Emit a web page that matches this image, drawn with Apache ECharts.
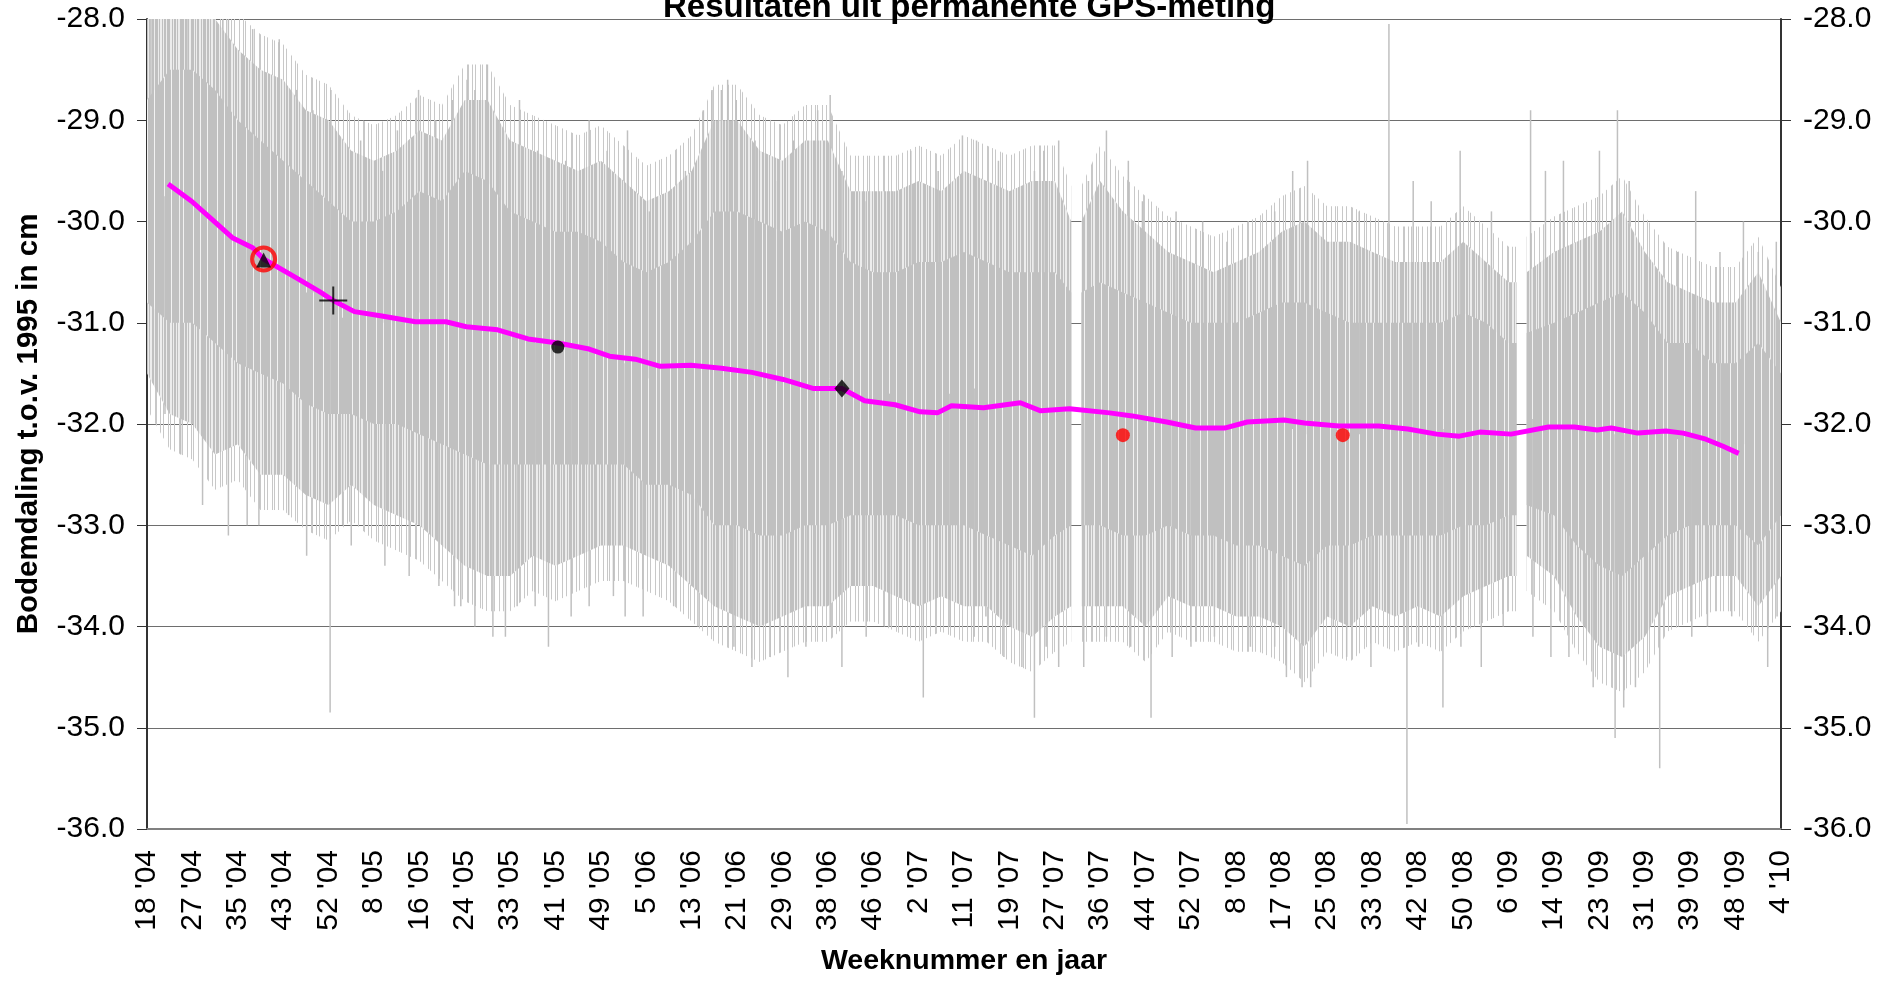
<!DOCTYPE html>
<html>
<head>
<meta charset="utf-8">
<title>Resultaten uit permanente GPS-meting</title>
<script src="https://cdn.jsdelivr.net/npm/echarts@6/dist/echarts.min.js"></script>
<style>
html, body { margin: 0; padding: 0; background: #fff; }
#chart { width: 1886px; height: 981px; }
</style>
</head>
<body>
<div id="chart"></div>
<script>
// x-as = dagnummer vanaf week 18 '04, elke 58 dagen een label
var tickLabels = ["18 '04", "27 '04", "35 '04", "43 '04", "52 '04", "8 '05", "16 '05", "24 '05", "33 '05",
  "41 '05", "49 '05", "5 '06", "13 '06", "21 '06", "29 '06", "38 '06", "46 '06", "2 '07", "11 '07",
  "19 '07", "27 '07", "36 '07", "44 '07", "52 '07", "8 '08", "17 '08", "25 '08", "33 '08", "42 '08",
  "50 '08", "6 '09", "14 '09", "23 '09", "31 '09", "39 '09", "48 '09", "4 '10"];
var tickStep = 58;
var lastDay = 2088;

var bandDays = [0, 29, 58, 87, 116, 145, 174, 203, 232, 261, 290, 319, 348, 377, 406, 435, 464, 493, 522, 551,
  580, 609, 638, 667, 696, 725, 754, 783, 812, 841, 870, 899, 928, 957, 986, 1015, 1044, 1073, 1102, 1131,
  1160, 1181, 1188, 1194, 1218, 1247, 1276, 1305, 1334, 1363, 1392, 1421, 1450, 1479, 1508, 1537, 1566, 1595,
  1624, 1653, 1682, 1711, 1740, 1750, 1756, 1763, 1798, 1827, 1856, 1885, 1914, 1943, 1972, 2001, 2030,
  2059, 2088];
var outerHigh = [-28.0, -28.0, -28.0, -28.0, -28.3, -28.5, -28.6, -28.9, -29.0, -29.3, -29.4, -29.3, -29.1, -29.2,
  -28.8, -28.8, -29.2, -29.3, -29.4, -29.5, -29.4, -29.6, -29.8, -29.7, -29.5, -29.0, -29.0, -29.3, -29.4, -29.2,
  -29.2, -29.7, -29.7, -29.7, -29.6, -29.7, -29.5, -29.6, -29.7, -29.6, -29.6, -30.0, null, -30.0, -29.6, -29.9,
  -30.1, -30.3, -30.4, -30.5, -30.4, -30.3, -30.1, -30.0, -30.2, -30.2, -30.3, -30.4, -30.4, -30.4, -30.2, -30.4,
  -30.6, -30.6, null, -30.5, -30.3, -30.2, -30.1, -29.9, -30.3, -30.6, -30.7, -30.8, -30.8, -30.5, -31.0];
var innerHigh = [-28.8, -28.5, -28.5, -28.7, -29.0, -29.2, -29.4, -29.6, -29.8, -30.0, -30.0, -29.9, -29.7, -29.8,
  -29.5, -29.6, -29.9, -30.0, -30.1, -30.1, -30.2, -30.4, -30.5, -30.4, -30.2, -29.9, -29.9, -30.0, -30.1, -30.0,
  -30.1, -30.4, -30.5, -30.5, -30.4, -30.4, -30.3, -30.4, -30.5, -30.5, -30.5, -30.7, null, -30.7, -30.6, -30.7,
  -30.8, -30.9, -31.0, -31.0, -31.0, -30.9, -30.8, -30.8, -30.9, -31.0, -31.0, -31.0, -31.0, -31.0, -30.9, -31.0,
  -31.2, -31.2, null, -31.1, -31.0, -30.9, -30.8, -30.7, -30.9, -31.2, -31.2, -31.4, -31.4, -31.2, -31.5];
var innerLow = [-30.8, -31.0, -31.0, -31.2, -31.4, -31.5, -31.6, -31.8, -31.9, -31.9, -32.0, -32.0, -32.1, -32.2,
  -32.3, -32.4, -32.4, -32.4, -32.4, -32.4, -32.4, -32.4, -32.6, -32.6, -32.7, -33.0, -33.0, -33.1, -33.1, -33.0,
  -33.0, -32.9, -32.9, -32.9, -33.0, -33.0, -33.0, -33.1, -33.2, -33.3, -33.1, -33.0, null, -33.0, -33.0, -33.1,
  -33.1, -33.0, -33.1, -33.1, -33.2, -33.2, -33.3, -33.4, -33.2, -33.2, -33.1, -33.1, -33.1, -33.1, -33.0, -33.0,
  -32.9, -32.9, null, -32.8, -32.9, -33.2, -33.4, -33.5, -33.3, -33.1, -33.0, -33.0, -33.0, -33.2, -32.9];
var outerLow = [-31.5, -31.9, -32.0, -32.3, -32.2, -32.5, -32.5, -32.7, -32.8, -32.6, -32.8, -32.9, -33.0, -33.2,
  -33.4, -33.5, -33.5, -33.3, -33.4, -33.3, -33.2, -33.2, -33.3, -33.4, -33.6, -33.8, -33.9, -34.0, -33.9, -33.8,
  -33.8, -33.6, -33.6, -33.7, -33.8, -33.7, -33.8, -33.8, -34.0, -34.1, -33.9, -33.8, null, -33.8, -33.8, -33.8,
  -34.0, -33.7, -33.8, -33.8, -33.9, -33.9, -34.0, -34.2, -33.9, -34.0, -33.8, -33.9, -33.8, -33.9, -33.7, -33.6,
  -33.5, -33.5, null, -33.3, -33.5, -33.9, -34.2, -34.3, -34.1, -33.7, -33.6, -33.5, -33.5, -33.8, -33.5];

// losse uitschieters in de dagmetingen (boven en onder)
var spikeDays = [5, 28, 51, 74, 97, 104, 135, 169, 191, 212, 235, 273, 301, 320, 347, 369, 390, 409, 419, 435,
  450, 476, 499, 535, 565, 588, 614, 642, 688, 711, 722, 734, 742, 753, 777, 803, 826, 857, 873, 888, 919, 953,
  976, 1011, 1042, 1060, 1088, 1134, 1146, 1165, 1203, 1226, 1254, 1272, 1315, 1349, 1380, 1441, 1464, 1483,
  1503, 1549, 1587, 1618, 1641, 1678, 1718, 1768, 1787, 1810, 1856, 1879, 1894, 1956, 1979, 2010, 2040, 2059, 2082,
  23, 43, 71, 104, 128, 143, 181, 204, 234, 250, 261, 304, 335, 373, 393, 401, 419, 442, 458, 473, 496, 513, 542,
  565, 596, 611, 634, 673, 704, 730, 750, 773, 796, 819, 842, 873, 888, 919, 949, 992, 1026, 1057, 1072, 1095,
  1118, 1134, 1149, 1165, 1197, 1226, 1257, 1283, 1310, 1334, 1364, 1410, 1441, 1456, 1476, 1487, 1516, 1533,
  1564, 1610, 1625, 1656, 1679, 1705, 1733, 1771, 1794, 1817, 1848, 1876, 1887, 1902, 1933, 1974, 1994, 2025,
  2056, 2071, 2083];
var spikeValues = [-27.9, -27.9, -27.9, -27.9, -27.9, -27.9, -28.1, -28.2, -28.7, -28.9, -28.7, -29.2, -29.5, -29.1,
  -28.7, -29.0, -28.8, -28.6, -28.7, -28.45, -29.0, -28.8, -29.3, -29.4, -29.0, -29.3, -29.1, -29.9, -29.5, -28.9,
  -28.7, -28.7, -28.6, -28.8, -29.2, -29.6, -29.2, -28.9, -28.75, -29.5, -29.8, -29.7, -29.3, -29.5, -29.15, -29.2,
  -29.4, -29.5, -29.3, -29.2, -29.6, -29.1, -29.4, -29.8, -29.9, -30.0, -30.2, -29.9, -29.5, -29.4, -30.0, -29.9,
  -28.05, -29.6, -29.8, -29.3, -29.9, -28.9, -29.5, -29.4, -29.3, -28.9, -29.6, -30.3, -29.7, -30.3, -30.0, -30.3,
  -30.2,
  -31.9, -32.3, -32.8, -33.1, -33.0, -33.0, -32.9, -33.3, -34.85, -33.0, -33.2, -33.4, -33.5, -33.6, -33.8, -33.8,
  -34.0, -34.1, -34.1, -33.8, -33.8, -34.2, -33.9, -33.8, -33.7, -33.9, -33.9, -33.8, -34.0, -34.0, -34.2, -34.4,
  -34.3, -34.5, -34.2, -34.0, -34.4, -34.1, -34.0, -34.7, -34.0, -34.1, -33.9, -34.3, -34.4, -34.9, -34.2, -34.4,
  -34.4, -34.1, -34.2, -34.9, -34.3, -34.2, -34.1, -34.2, -34.2, -34.5, -34.6, -34.6, -34.0, -34.3, -34.4, -35.95,
  -34.2, -34.8, -34.2, -34.4, -34.0, -34.1, -34.3, -34.3, -34.6, -35.1, -34.8, -34.6, -35.4, -34.1, -34.0, -33.9,
  -34.0, -34.4, -33.9];

// voortschrijdend gemiddelde (magenta)
var trendDays = [27, 57, 83, 109, 135, 149, 187, 220, 238, 265, 298, 343, 382, 408, 448, 487, 525, 565, 591, 624,
  656, 695, 734, 773, 813, 852, 888, 917, 956, 988, 1010, 1028, 1069, 1116, 1142, 1179, 1230, 1259, 1303, 1340,
  1377, 1406, 1453, 1479, 1523, 1574, 1611, 1648, 1677, 1703, 1743, 1791, 1824, 1853, 1871, 1905, 1941, 1963,
  1992, 2014, 2034];
var trendValues = [-29.63, -29.80, -29.98, -30.16, -30.26, -30.37, -30.54, -30.69, -30.78, -30.89, -30.93, -30.99,
  -30.99, -31.04, -31.07, -31.16, -31.20, -31.26, -31.33, -31.36, -31.43, -31.42, -31.45, -31.49, -31.56, -31.65,
  -31.65, -31.77, -31.81, -31.88, -31.89, -31.82, -31.84, -31.79, -31.87, -31.85, -31.89, -31.92, -31.98, -32.04,
  -32.04, -31.98, -31.96, -31.99, -32.02, -32.02, -32.05, -32.10, -32.12, -32.08, -32.10, -32.03, -32.03, -32.06,
  -32.04, -32.09, -32.07, -32.09, -32.15, -32.22, -32.29];

// losse referentiemetingen
var ringPoint = [149, -30.37];
var trianglePoint = [149, -30.38];
var plusPoint = [238, -30.78];
var circlePoint = [525, -31.24];
var diamondPoint = [888, -31.65];
var redPoints = [[1247, -32.11], [1528, -32.11]];

var FONT = 'Liberation Sans, Arial, sans-serif';
var FRINGE = 0.35; // ijle rand rond de buitenste band (alleen opmaak)

// streeppatroon om de dichte grijze lijnenbundel na te bootsen
function stripePattern(code, on, off) {
  var c = document.createElement('canvas');
  c.width = code.length;
  c.height = 4;
  var ctx = c.getContext('2d');
  for (var i = 0; i < code.length; i++) {
    var col = code[i] === '1' ? on : off;
    if (col) {
      ctx.fillStyle = col;
      ctx.fillRect(i, 0, 1, 4);
    }
  }
  return { image: c, repeat: 'repeat' };
}
var fringeFill = stripePattern('1000100100001010001000010010000100010100001000100001', '#c8c8c8', null);
var outerFill = stripePattern('1011010011101011001011101101001101110100101101110010110100111', '#c0c0c0', '#ececec');
var innerFill = stripePattern('11111011111101111111011101111111110111111011111101111', '#c0c0c0', '#f2f2f2');

function bandSeries(hi, lo, fill, pad) {
  return {
    type: 'custom',
    silent: true,
    clip: true,
    data: [0],
    renderItem: function (params, api) {
      var children = [];
      var run = [];
      function flush() {
        if (run.length > 1) {
          var pts = [];
          for (var a = 0; a < run.length; a++) pts.push(api.coord([bandDays[run[a]], hi[run[a]] + pad]));
          for (var b = run.length - 1; b >= 0; b--) pts.push(api.coord([bandDays[run[b]], lo[run[b]] - pad]));
          children.push({ type: 'polygon', shape: { points: pts }, style: { fill: fill } });
        }
        run = [];
      }
      for (var i = 0; i < bandDays.length; i++) {
        if (hi[i] == null) flush(); else run.push(i);
      }
      flush();
      return { type: 'group', children: children };
    }
  };
}

function nearestBandMid(day) {
  var best = 0, dist = 1e9;
  for (var i = 0; i < bandDays.length; i++) {
    if (innerHigh[i] == null) continue;
    var d = Math.abs(bandDays[i] - day);
    if (d < dist) { dist = d; best = i; }
  }
  return (innerHigh[best] + innerLow[best]) / 2;
}

var chart = echarts.init(document.getElementById('chart'));

var option = {
  backgroundColor: '#fff',
  animation: false,
  title: {
    text: 'Resultaten uit permanente GPS-meting',
    left: 658,
    top: -14,
    textStyle: { fontFamily: FONT, fontSize: 33, fontWeight: 'bold', color: '#000' }
  },
  grid: { left: 147, right: 105, top: 19, bottom: 150 },
  xAxis: {
    type: 'value',
    min: 0,
    max: lastDay,
    interval: tickStep,
    name: 'Weeknummer en jaar',
    nameLocation: 'middle',
    nameGap: 118,
    nameTextStyle: { fontFamily: FONT, fontSize: 28.5, fontWeight: 'bold', color: '#000' },
    axisLine: { show: true, onZero: false, lineStyle: { color: '#808080', width: 2 } },
    axisTick: { show: false },
    splitLine: { show: false },
    axisLabel: {
      rotate: 90,
      margin: 21,
      fontFamily: FONT,
      fontSize: 30,
      color: '#000',
      formatter: function (v) { return tickLabels[Math.round(v / tickStep)] || ''; }
    }
  },
  yAxis: [{
    type: 'value',
    min: -36,
    max: -28,
    interval: 1,
    name: 'Bodemdaling t.o.v. 1995 in cm',
    nameLocation: 'middle',
    nameRotate: 90,
    nameGap: 103,
    nameTextStyle: { fontFamily: FONT, fontSize: 29.5, fontWeight: 'bold', color: '#000' },
    axisLine: { show: true, onZero: false, lineStyle: { color: '#333', width: 2 } },
    axisTick: { show: true, inside: false, length: 10, lineStyle: { color: '#333' } },
    splitLine: { show: true, lineStyle: { color: '#6e6e6e', width: 1.2 } },
    axisLabel: {
      margin: 22, fontFamily: FONT, fontSize: 30, color: '#000',
      formatter: function (v) { return v.toFixed(1); }
    }
  }, {
    type: 'value',
    position: 'right',
    min: -36,
    max: -28,
    interval: 1,
    axisLine: { show: true, onZero: false, lineStyle: { color: '#333', width: 2 } },
    axisTick: { show: true, inside: false, length: 10, lineStyle: { color: '#333' } },
    splitLine: { show: false },
    axisLabel: {
      margin: 22, fontFamily: FONT, fontSize: 30, color: '#000',
      formatter: function (v) { return v.toFixed(1); }
    }
  }],
  series: [
    bandSeries(outerHigh, outerLow, fringeFill, FRINGE),
    bandSeries(outerHigh, outerLow, outerFill, 0),
    bandSeries(innerHigh, innerLow, innerFill, 0),
    {
      type: 'custom',
      silent: true,
      clip: true,
      data: spikeDays.map(function (d, i) { return [d, spikeValues[i]]; }),
      renderItem: function (params, api) {
        var day = api.value(0);
        var p1 = api.coord([day, api.value(1)]);
        var p0 = api.coord([day, nearestBandMid(day)]);
        return {
          type: 'line',
          shape: { x1: p0[0], y1: p0[1], x2: p1[0], y2: p1[1] },
          style: { stroke: '#c0c0c0', lineWidth: 1.5 }
        };
      }
    },
    {
      name: 'gemiddelde',
      type: 'line',
      data: trendDays.map(function (d, i) { return [d, trendValues[i]]; }),
      showSymbol: false,
      lineStyle: { color: '#ff00ff', width: 5 },
      z: 5
    },
    {
      type: 'scatter',
      data: [ringPoint],
      symbol: 'circle',
      symbolSize: 23,
      itemStyle: { color: 'rgba(0,0,0,0)', borderColor: '#ff0000', borderWidth: 4 },
      z: 6
    },
    {
      type: 'scatter',
      data: [trianglePoint],
      symbol: 'triangle',
      symbolSize: 15,
      itemStyle: { color: '#000' },
      z: 7
    },
    {
      type: 'scatter',
      data: [plusPoint],
      symbol: 'path://M0,14L28,14M14,0L14,28',
      symbolSize: 28,
      itemStyle: { color: 'none', borderColor: '#000', borderWidth: 2 },
      z: 7
    },
    {
      type: 'scatter',
      data: [circlePoint],
      symbol: 'circle',
      symbolSize: 13,
      itemStyle: { color: '#000' },
      z: 7
    },
    {
      type: 'scatter',
      data: [diamondPoint],
      symbol: 'diamond',
      symbolSize: [15, 18],
      itemStyle: { color: '#000' },
      z: 7
    },
    {
      type: 'scatter',
      data: redPoints,
      symbol: 'circle',
      symbolSize: 14,
      itemStyle: { color: '#ff0000' },
      z: 7
    }
  ]
};

chart.setOption(option);
</script>
</body>
</html>
